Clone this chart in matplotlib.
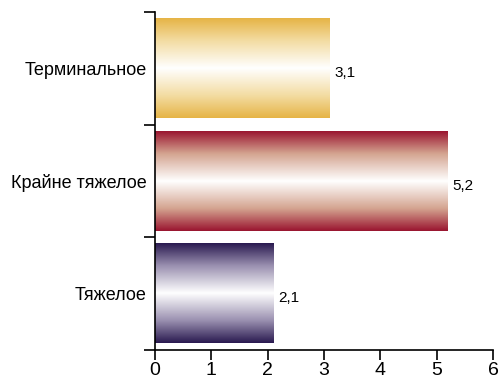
import numpy as np
from matplotlib import pyplot as plt
from matplotlib.colors import to_rgb

# Тяжесть состояния
categories = ["Тяжелое", "Крайне тяжелое", "Терминальное"]
values = [2.1, 5.2, 3.1]
labels = ["2,1", "5,2", "3,1"]
edge_colors = ["#2a1a50", "#9a1530", "#e6b446"]
mid_colors = ["#9a90b0", "#d4a490", "#f3dca2"]

plt.rcParams['font.family'] = ['Liberation Sans', 'DejaVu Sans']

fig = plt.figure(figsize=(4.99, 3.81), dpi=100)
ax = fig.add_axes([0.3106, 0.0814, 0.6774, 0.8871])

y = np.arange(len(categories))
bars = ax.barh(y, values, height=0.88, color='none', edgecolor='none')

# градиент: цвет по краям, белый в середине
t = np.abs(np.linspace(-1, 1, 256))
for bar, ec, mc in zip(bars, edge_colors, mid_colors):
    stops = np.array([to_rgb('white'), to_rgb(mc), to_rgb(ec)])
    grad = np.stack([np.interp(t, [0, 0.55, 1], stops[:, k]) for k in range(3)], axis=1)
    img = np.repeat(grad[:, None, :], 2, axis=1)
    x0, y0 = bar.get_x(), bar.get_y()
    ax.imshow(img, extent=[x0, x0 + bar.get_width(), y0, y0 + bar.get_height()],
              aspect='auto', interpolation='bilinear', zorder=2)

for yi, v, lab in zip(y, values, labels):
    ax.text(v + 0.08, yi - 0.04, lab, va='center', ha='left', fontsize=11)

ax.set_xlim(0, 6)
ax.set_ylim(-0.5, 2.5)
ax.set_xticks(range(7))
ax.tick_params(axis='x', labelsize=14, length=7, width=1.2, direction='out', pad=2)
ax.set_yticks(y)
ax.set_yticklabels(categories, fontsize=13)
ax.tick_params(axis='y', length=0, pad=6)
ax.set_yticks([-0.5, 0.5, 1.5, 2.5], minor=True)
ax.tick_params(axis='y', which='minor', length=8, width=1.2, direction='out')

ax.spines['top'].set_visible(False)
ax.spines['right'].set_visible(False)
ax.spines['left'].set_linewidth(1.2)
ax.spines['bottom'].set_linewidth(1.2)

plt.savefig('out.png', dpi=100)
